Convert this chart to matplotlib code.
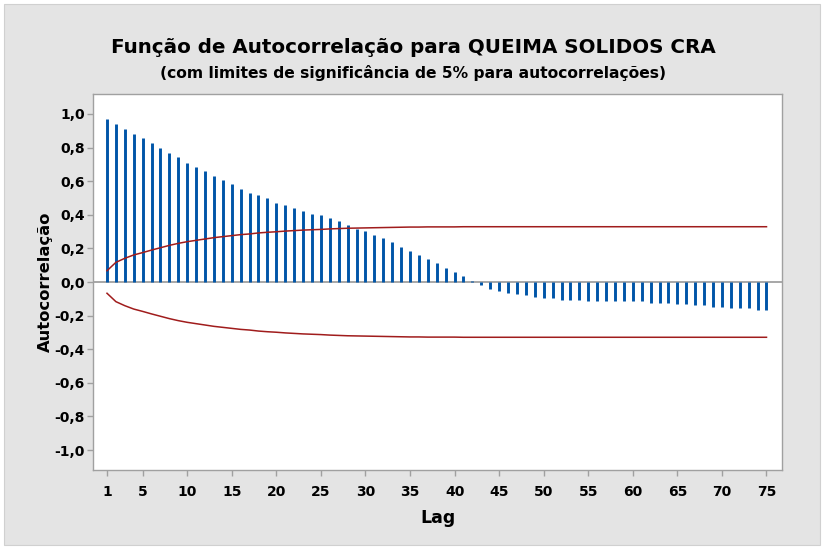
import numpy as np
import matplotlib
matplotlib.use("Agg")
import matplotlib.pyplot as plt
from matplotlib.patches import Rectangle

# valores
lags = np.arange(1, 76)
acf = [0.970, 0.942, 0.911, 0.883, 0.859, 0.827, 0.800, 0.770, 0.742, 0.708,
       0.683, 0.659, 0.633, 0.607, 0.581, 0.554, 0.530, 0.516, 0.500, 0.470,
       0.456, 0.440, 0.421, 0.405, 0.397, 0.381, 0.363, 0.337, 0.317, 0.304,
       0.278, 0.262, 0.238, 0.208, 0.185, 0.159, 0.135, 0.111, 0.083, 0.060,
       0.036, 0.006, -0.015, -0.043, -0.056, -0.066, -0.074, -0.080, -0.090, -0.098,
       -0.098, -0.110, -0.110, -0.110, -0.115, -0.115, -0.115, -0.115, -0.115, -0.115,
       -0.115, -0.125, -0.125, -0.125, -0.133, -0.133, -0.139, -0.139, -0.148, -0.148,
       -0.157, -0.157, -0.157, -0.168, -0.168]
limite = [0.067, 0.117, 0.141, 0.161, 0.175, 0.190, 0.204, 0.218, 0.230, 0.240,
          0.248, 0.256, 0.264, 0.270, 0.276, 0.282, 0.286, 0.292, 0.296, 0.299,
          0.303, 0.306, 0.309, 0.311, 0.313, 0.316, 0.318, 0.320, 0.321, 0.322,
          0.323, 0.324, 0.325, 0.326, 0.327, 0.327, 0.328, 0.328, 0.328, 0.328,
          0.329, 0.329, 0.329, 0.329, 0.329, 0.329, 0.329, 0.329, 0.329, 0.329,
          0.329, 0.329, 0.329, 0.329, 0.329, 0.329, 0.329, 0.329, 0.329, 0.329,
          0.329, 0.329, 0.329, 0.329, 0.329, 0.329, 0.329, 0.329, 0.329, 0.329,
          0.329, 0.329, 0.329, 0.329, 0.329]
xticks = [1, 5, 10, 15, 20, 25, 30, 35, 40, 45, 50, 55, 60, 65, 70, 75]
yticks = np.round(np.arange(-1.0, 1.01, 0.2), 1)

W, H = 826, 553
fig = plt.figure(figsize=(W / 100, H / 100), dpi=100, facecolor="white")
fig.patches.append(Rectangle((4 / W, 1 - 545 / H), 816 / W, 541 / H,
                             transform=fig.transFigure, facecolor="#E4E4E4",
                             edgecolor="#D0D0D0", linewidth=0.8, zorder=-10))

ax = fig.add_axes([93 / W, 1 - 470 / H, (782 - 93) / W, (470 - 94) / H])
ax.set_zorder(2)
ax.set_facecolor("white")

ax.axhline(0, color="#A0A0A0", linewidth=1.3, zorder=1)
ax.vlines(lags, 0, acf, color="#0055A8", linewidth=2.1, zorder=2)
lim = np.array(limite)
ax.plot(lags, lim, color="#A01C1C", linewidth=1.1, zorder=3)
ax.plot(lags, -lim, color="#A01C1C", linewidth=1.1, zorder=3)

ax.set_xlim(-0.57, 76.74)
ax.set_ylim(-1.119, 1.119)
ax.set_xticks(xticks)
ax.set_yticks(yticks)
ax.set_yticklabels([f"{v:.1f}".replace(".", ",").replace("-0,0", "0,0") for v in yticks])
for s in ax.spines.values():
    s.set_color("#A0A0A0")
    s.set_linewidth(1.0)
ax.tick_params(colors="#A0A0A0", length=4, width=1.0, labelcolor="black", labelsize=10)
ax.tick_params(axis="x", pad=7)
ax.tick_params(axis="y", pad=2)
for t in ax.get_xticklabels() + ax.get_yticklabels():
    t.set_fontweight("bold")

ax.set_xlabel("Lag", fontsize=12.5, fontweight="bold", labelpad=7)
ax.set_ylabel("Autocorrelação", fontsize=11.8, fontweight="bold", labelpad=1)

fig.text(0.5, 1 - 53 / H, "Função de Autocorrelação para QUEIMA SOLIDOS CRA",
         ha="center", va="baseline", fontsize=14.3, fontweight="bold")
fig.text(0.5, 1 - 78 / H, "(com limites de significância de 5% para autocorrelações)",
         ha="center", va="baseline", fontsize=11.2, fontweight="bold")

fig.savefig("out.png", dpi=100, facecolor="white")
